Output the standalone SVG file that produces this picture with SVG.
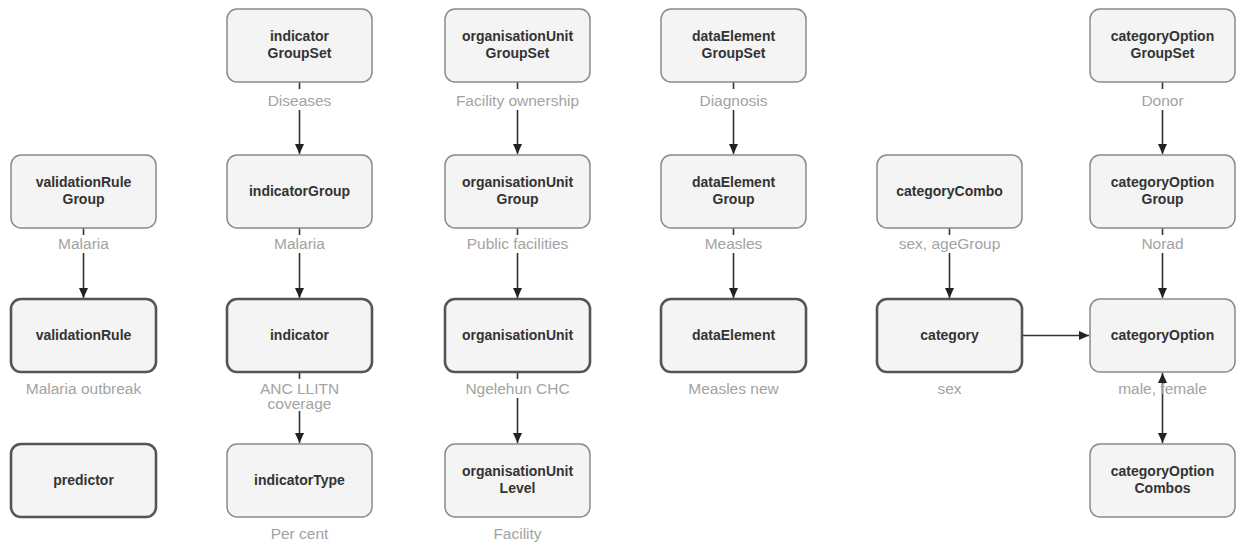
<svg xmlns="http://www.w3.org/2000/svg" width="1236" height="546" viewBox="0 0 1236 546">
<style>
.box{fill:#f4f4f4;stroke:#8a8a8a;stroke-width:1.5}
.main{fill:#f4f4f4;stroke:#555;stroke-width:2.6}
.t{font-family:"Liberation Sans",Arial,sans-serif;font-size:14px;font-weight:bold;fill:#333;text-anchor:middle}
.l{font-family:"Liberation Sans",Arial,sans-serif;font-size:15.5px;fill:#a3a3a3;text-anchor:middle}
.c{stroke:#333;stroke-width:1.6;fill:none}
</style>
<defs>
<marker id="ah" markerUnits="userSpaceOnUse" markerWidth="10" markerHeight="10" viewBox="0 0 10 10" refX="10" refY="5" orient="auto">
<path d="M0,0.5 L10,5 L0,9.5 Z" fill="#222"/>
</marker>
<marker id="ahs" markerUnits="userSpaceOnUse" markerWidth="10" markerHeight="10" viewBox="0 0 10 10" refX="0" refY="5" orient="auto">
<path d="M10,0.5 L0,5 L10,9.5 Z" fill="#222"/>
</marker>
</defs>

<g id="connectors">
<line class="c" x1="83.5" y1="228" x2="83.5" y2="235"/>
<line class="c" x1="83.5" y1="253" x2="83.5" y2="298" marker-end="url(#ah)"/>
<line class="c" x1="299.5" y1="82" x2="299.5" y2="89"/>
<line class="c" x1="299.5" y1="110" x2="299.5" y2="154" marker-end="url(#ah)"/>
<line class="c" x1="299.5" y1="228" x2="299.5" y2="235"/>
<line class="c" x1="299.5" y1="253" x2="299.5" y2="298" marker-end="url(#ah)"/>
<line class="c" x1="299.5" y1="373" x2="299.5" y2="379"/>
<line class="c" x1="299.5" y1="411" x2="299.5" y2="443" marker-end="url(#ah)"/>
<line class="c" x1="517.5" y1="82" x2="517.5" y2="89"/>
<line class="c" x1="517.5" y1="110" x2="517.5" y2="154" marker-end="url(#ah)"/>
<line class="c" x1="517.5" y1="228" x2="517.5" y2="235"/>
<line class="c" x1="517.5" y1="253" x2="517.5" y2="298" marker-end="url(#ah)"/>
<line class="c" x1="517.5" y1="373" x2="517.5" y2="379"/>
<line class="c" x1="517.5" y1="398" x2="517.5" y2="443" marker-end="url(#ah)"/>
<line class="c" x1="733.5" y1="82" x2="733.5" y2="89"/>
<line class="c" x1="733.5" y1="110" x2="733.5" y2="154" marker-end="url(#ah)"/>
<line class="c" x1="733.5" y1="228" x2="733.5" y2="235"/>
<line class="c" x1="733.5" y1="253" x2="733.5" y2="298" marker-end="url(#ah)"/>
<line class="c" x1="949.5" y1="228" x2="949.5" y2="235"/>
<line class="c" x1="949.5" y1="253" x2="949.5" y2="298" marker-end="url(#ah)"/>
<line class="c" x1="1023" y1="335.5" x2="1089" y2="335.5" marker-end="url(#ah)"/>
<line class="c" x1="1162.5" y1="82" x2="1162.5" y2="89"/>
<line class="c" x1="1162.5" y1="110" x2="1162.5" y2="154" marker-end="url(#ah)"/>
<line class="c" x1="1162.5" y1="228" x2="1162.5" y2="235"/>
<line class="c" x1="1162.5" y1="253" x2="1162.5" y2="298" marker-end="url(#ah)"/>
<line class="c" x1="1162.5" y1="373" x2="1162.5" y2="443" marker-start="url(#ahs)" marker-end="url(#ah)"/>
</g>

<g id="labels">
<text class="l" x="83.5" y="249">Malaria</text>
<text class="l" x="83.5" y="394">Malaria outbreak</text>
<text class="l" x="299.5" y="106">Diseases</text>
<text class="l" x="299.5" y="249">Malaria</text>
<text class="l" x="299.5" y="394">ANC LLITN</text>
<text class="l" x="299.5" y="409">coverage</text>
<text class="l" x="299.5" y="539">Per cent</text>
<text class="l" x="517.5" y="106">Facility ownership</text>
<text class="l" x="517.5" y="249">Public facilities</text>
<text class="l" x="517.5" y="394">Ngelehun CHC</text>
<text class="l" x="517.5" y="539">Facility</text>
<text class="l" x="733.5" y="106">Diagnosis</text>
<text class="l" x="733.5" y="249">Measles</text>
<text class="l" x="733.5" y="394">Measles new</text>
<text class="l" x="949.5" y="249">sex, ageGroup</text>
<text class="l" x="949.5" y="394">sex</text>
<text class="l" x="1162.5" y="106">Donor</text>
<text class="l" x="1162.5" y="249">Norad</text>
<text class="l" x="1162.5" y="394">male, female</text>
</g>

<g id="validationRuleGroup"><rect class="box" x="11" y="155" width="145" height="73" rx="10"/><text class="t" x="83.5" y="187">validationRule</text><text class="t" x="83.5" y="204">Group</text></g>
<g id="validationRule"><rect class="main" x="11" y="299" width="145" height="73" rx="10"/><text class="t" x="83.5" y="340">validationRule</text></g>
<g id="predictor"><rect class="main" x="11" y="444" width="145" height="73" rx="10"/><text class="t" x="83.5" y="485">predictor</text></g>

<g id="indicatorGroupSet"><rect class="box" x="227" y="9" width="145" height="73" rx="10"/><text class="t" x="299.5" y="41">indicator</text><text class="t" x="299.5" y="58">GroupSet</text></g>
<g id="indicatorGroup"><rect class="box" x="227" y="155" width="145" height="73" rx="10"/><text class="t" x="299.5" y="196">indicatorGroup</text></g>
<g id="indicator"><rect class="main" x="227" y="299" width="145" height="73" rx="10"/><text class="t" x="299.5" y="340">indicator</text></g>
<g id="indicatorType"><rect class="box" x="227" y="444" width="145" height="73" rx="10"/><text class="t" x="299.5" y="485">indicatorType</text></g>

<g id="organisationUnitGroupSet"><rect class="box" x="445" y="9" width="145" height="73" rx="10"/><text class="t" x="517.5" y="41">organisationUnit</text><text class="t" x="517.5" y="58">GroupSet</text></g>
<g id="organisationUnitGroup"><rect class="box" x="445" y="155" width="145" height="73" rx="10"/><text class="t" x="517.5" y="187">organisationUnit</text><text class="t" x="517.5" y="204">Group</text></g>
<g id="organisationUnit"><rect class="main" x="445" y="299" width="145" height="73" rx="10"/><text class="t" x="517.5" y="340">organisationUnit</text></g>
<g id="organisationUnitLevel"><rect class="box" x="445" y="444" width="145" height="73" rx="10"/><text class="t" x="517.5" y="476">organisationUnit</text><text class="t" x="517.5" y="493">Level</text></g>

<g id="dataElementGroupSet"><rect class="box" x="661" y="9" width="145" height="73" rx="10"/><text class="t" x="733.5" y="41">dataElement</text><text class="t" x="733.5" y="58">GroupSet</text></g>
<g id="dataElementGroup"><rect class="box" x="661" y="155" width="145" height="73" rx="10"/><text class="t" x="733.5" y="187">dataElement</text><text class="t" x="733.5" y="204">Group</text></g>
<g id="dataElement"><rect class="main" x="661" y="299" width="145" height="73" rx="10"/><text class="t" x="733.5" y="340">dataElement</text></g>

<g id="categoryCombo"><rect class="box" x="877" y="155" width="145" height="73" rx="10"/><text class="t" x="949.5" y="196">categoryCombo</text></g>
<g id="category"><rect class="main" x="877" y="299" width="145" height="73" rx="10"/><text class="t" x="949.5" y="340">category</text></g>

<g id="categoryOptionGroupSet"><rect class="box" x="1090" y="9" width="145" height="73" rx="10"/><text class="t" x="1162.5" y="41">categoryOption</text><text class="t" x="1162.5" y="58">GroupSet</text></g>
<g id="categoryOptionGroup"><rect class="box" x="1090" y="155" width="145" height="73" rx="10"/><text class="t" x="1162.5" y="187">categoryOption</text><text class="t" x="1162.5" y="204">Group</text></g>
<g id="categoryOption"><rect class="box" x="1090" y="299" width="145" height="73" rx="10"/><text class="t" x="1162.5" y="340">categoryOption</text></g>
<g id="categoryOptionCombos"><rect class="box" x="1090" y="444" width="145" height="73" rx="10"/><text class="t" x="1162.5" y="476">categoryOption</text><text class="t" x="1162.5" y="493">Combos</text></g>
</svg>
